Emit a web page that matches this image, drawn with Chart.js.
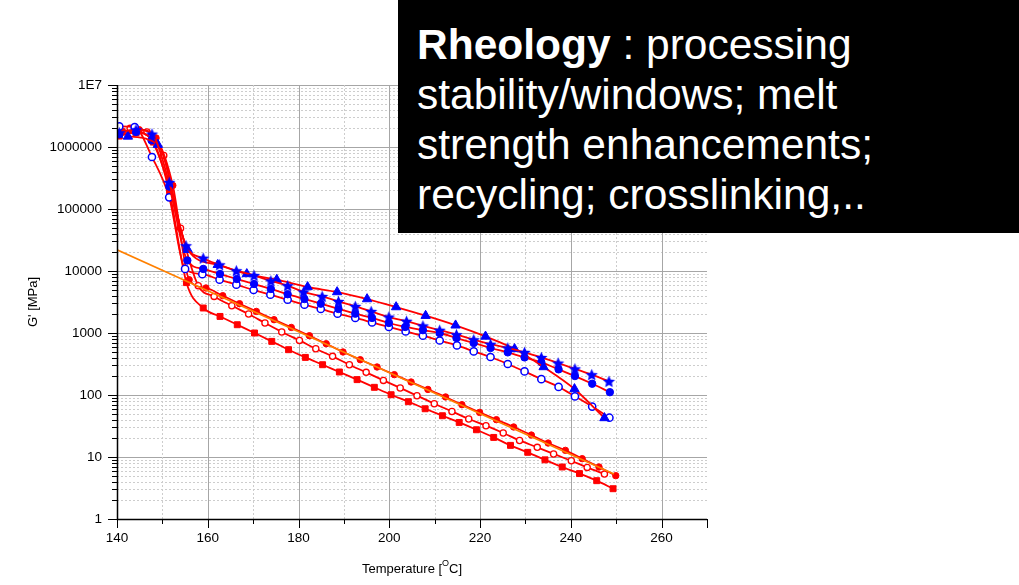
<!DOCTYPE html>
<html>
<head>
<meta charset="utf-8">
<script src="https://cdn.jsdelivr.net/npm/chart.js@4.4.1/dist/chart.umd.min.js"></script>
<style>
  html, body { margin: 0; padding: 0; background: #fff; }
  #wrap { position: relative; width: 1019px; height: 585px; overflow: hidden; }
  #c { position: absolute; left: 0; top: 0; }
  #note {
    position: absolute; left: 398px; top: 0; width: 621px; height: 233px;
    background: #000; color: #fff; box-sizing: border-box;
    padding: 20px 0 0 19px;
    font-family: "Liberation Sans", Arial, sans-serif; font-size: 42.5px; line-height: 50px;
  }
</style>
</head>
<body>
<div id="wrap">
  <canvas id="c" width="1019" height="585"></canvas>
  <div id="note"><b>Rheology</b> : processing<br>stability/windows; melt<br>strength enhancements;<br>recycling; crosslinking,..</div>
</div>
<script>
// Storage modulus G' vs temperature, seven samples plus a straight extrapolation line.

// blue stars
const tStar = [140.5, 144.2, 147.7, 151.5, 155.2, 159.0, 162.6, 166.3, 170.2, 173.9, 177.6, 181.1, 185.2, 188.8, 192.5, 196.0, 199.9, 203.8, 207.4, 211.1, 214.8, 218.6, 222.3, 226.1, 229.8, 233.5, 237.2, 240.9, 244.6, 248.4];
const gStar = [1.7e6, 1.9e6, 1.62e6, 2.69e5, 25600, 16100, 12600, 10100, 8490, 6920, 5800, 4600, 3890, 3230, 2690, 2230, 1810, 1550, 1300, 1110, 940, 780, 660, 573, 487, 403, 328, 264, 213, 166];

// blue filled circles
const tDot = [140.5, 144.2, 147.6, 151.5, 155.5, 159.0, 162.7, 166.4, 170.2, 173.9, 177.6, 181.3, 184.9, 188.8, 192.5, 196.2, 199.9, 203.5, 207.4, 211.1, 214.8, 218.6, 222.3, 226.1, 229.8, 233.5, 237.3, 240.9, 244.7, 248.6];
const gDot = [1.6e6, 1.75e6, 1.28e6, 2.3e5, 14800, 10800, 8950, 7430, 6170, 5130, 4220, 3530, 2970, 2440, 2050, 1750, 1450, 1250, 1110, 1000, 830, 690, 573, 487, 404, 336, 259, 202, 152, 111];

// blue open circles
const tRing = [140.5, 143.9, 147.7, 151.5, 155.0, 158.8, 162.6, 166.3, 170.1, 173.8, 177.6, 181.3, 184.9, 188.6, 192.5, 196.2, 199.9, 203.6, 207.4, 211.1, 214.9, 218.6, 222.3, 226.1, 229.8, 233.5, 237.3, 240.9, 244.7, 248.5];
const gRing = [2.15e6, 2.1e6, 6.9e5, 1.54e5, 10800, 8880, 7240, 6020, 4940, 4150, 3440, 2860, 2440, 2050, 1750, 1480, 1250, 1060, 904, 757, 631, 505, 410, 316, 240, 180, 135, 95, 65, 43];

// blue triangles
const tTri = [142.4, 149.0, 155.6, 162.2, 168.6, 175.2, 182.0, 188.5, 195.1, 201.5, 208.0, 214.6, 221.2, 227.6, 234.0, 240.8, 247.4];
const gTri = [1.48e6, 1.09e6, 22000, 12600, 8950, 7240, 5520, 4580, 3530, 2620, 1900, 1330, 880, 553, 283, 125, 42.6];

// red squares
const tSq = [140.5, 144.2, 148.0, 151.6, 155.3, 159.0, 162.7, 166.5, 170.3, 174.1, 177.8, 181.5, 185.3, 189.0, 192.9, 196.7, 200.4, 204.2, 207.9, 211.7, 215.4, 219.2, 223.0, 226.7, 230.5, 234.3, 238.1, 241.9, 245.7, 249.3];
const gSq = [1.5e6, 1.7e6, 1.2e6, 1.8e5, 6500, 2530, 1850, 1360, 1000, 733, 538, 404, 308, 235, 177, 133, 101, 78, 60, 46.3, 36.1, 27.5, 20.7, 15.4, 11.9, 9.0, 6.9, 5.4, 4.15, 3.08];

// red open circles
const tOpen = [142.9, 146.6, 150.3, 154.0, 157.9, 161.4, 165.3, 169.0, 172.6, 176.3, 180.2, 183.8, 187.5, 191.2, 194.9, 198.7, 202.4, 206.1, 209.9, 213.8, 217.5, 221.3, 225.1, 228.7, 232.6, 236.2, 240.1, 243.6, 247.4];
const gOpen = [2.0e6, 1.75e6, 7.3e5, 4.9e4, 5790, 3890, 2750, 2020, 1450, 1040, 760, 558, 420, 308, 232, 172, 130, 97.5, 72.4, 54.3, 41, 32, 24.4, 18.5, 14.3, 11.2, 8.7, 6.8, 5.3];

// red filled circles
const tFull = [141.2, 144.9, 148.6, 152.3, 155.9, 159.6, 163.3, 167.0, 170.7, 174.6, 178.4, 182.4, 186.1, 189.8, 193.6, 197.3, 201.1, 204.8, 208.5, 212.4, 216.0, 219.9, 223.6, 227.4, 231.3, 235.0, 238.8, 242.5, 246.2, 249.9];
const gFull = [1.8e6, 1.9e6, 1.4e6, 2.4e5, 7240, 5320, 4000, 2970, 2230, 1640, 1230, 904, 672, 494, 371, 283, 213, 162, 123, 93, 69.8, 52.4, 40, 30.5, 22.6, 16.8, 12.8, 9.4, 6.9, 5.0];

// orange extrapolation line
const tFit = [140, 249.5];
const gFit = [22000, 5.3];

// axis labels
const xTickLabels = ['140', '160', '180', '200', '220', '240', '260'];
const yTickLabels = ['1', '10', '100', '1000', '10000', '100000', '1000000', '1E7'];

const RED = '#ff0000', BLUE = '#0000ff', ORANGE = '#ff8000';
const LABEL_FONT = '"Liberation Sans Narrow", "Arial Narrow", "Liberation Sans", Arial, sans-serif';

function pts(t, g) { return t.map((x, i) => ({ x: x, y: g[i] })); }

function starImage(r, color) {
  const s = Math.ceil(r * 2 + 2);
  const c = document.createElement('canvas');
  c.width = s; c.height = s;
  const g = c.getContext('2d');
  g.fillStyle = color;
  g.beginPath();
  for (let i = 0; i < 10; i++) {
    const rad = i % 2 ? r * 0.47 : r;
    const a = -Math.PI / 2 + i * Math.PI / 5;
    g.lineTo(s / 2 + rad * Math.cos(a), s / 2 + 0.6 + rad * Math.sin(a));
  }
  g.closePath();
  g.fill();
  return c;
}

function series(label, data, extra) {
  return Object.assign({
    label: label,
    data: data,
    borderColor: RED,
    borderWidth: 1.8,
    cubicInterpolationMode: 'monotone',
    pointBorderWidth: 1,
    pointHoverRadius: 0
  }, extra);
}

const datasets = [
  series('fit', pts(tFit, gFit), { borderColor: ORANGE, borderWidth: 1.7, pointRadius: 0 }),
  series('stars', pts(tStar, gStar), { pointStyle: starImage(6.4, BLUE), pointRadius: 6 }),
  series('triangles', pts(tTri, gTri), { pointStyle: 'triangle', pointRadius: 5.4, pointBackgroundColor: BLUE, pointBorderColor: BLUE }),
  series('dots', pts(tDot, gDot), { pointStyle: 'circle', pointRadius: 3.7, pointBackgroundColor: BLUE, pointBorderColor: BLUE }),
  series('rings', pts(tRing, gRing), { pointStyle: 'circle', pointRadius: 3.6, pointBackgroundColor: '#fff', pointBorderColor: BLUE, pointBorderWidth: 1.5 }),
  series('full', pts(tFull, gFull), { pointStyle: 'circle', pointRadius: 3.2, pointBackgroundColor: RED, pointBorderColor: RED }),
  series('open', pts(tOpen, gOpen), { pointStyle: 'circle', pointRadius: 3.1, pointBackgroundColor: '#fff', pointBorderColor: RED, pointBorderWidth: 1.3 }),
  series('squares', pts(tSq, gSq), { pointStyle: 'rect', pointRadius: 4.2, pointBackgroundColor: RED, pointBorderColor: RED })
];

function isDecade(v) {
  const e = Math.log10(v);
  return Math.abs(e - Math.round(e)) < 1e-9;
}

// dotted minor grid, solid major grid
const gridPlugin = {
  id: 'grid',
  beforeDatasetsDraw(chart) {
    const { ctx, chartArea: a, scales: { x, y } } = chart;
    ctx.save();
    ctx.lineWidth = 1;
    y.ticks.forEach(t => {
      const py = Math.round(y.getPixelForValue(t.value)) + 0.5;
      const major = isDecade(t.value);
      ctx.strokeStyle = major ? '#a6a6a6' : '#cdcdcd';
      ctx.setLineDash(major ? [] : [2, 2]);
      ctx.beginPath(); ctx.moveTo(a.left, py); ctx.lineTo(a.right, py); ctx.stroke();
    });
    x.ticks.forEach(t => {
      if (t.value <= x.min || t.value >= x.max) return;
      const px = Math.round(x.getPixelForValue(t.value)) + 0.5;
      const major = t.value % 20 === 0;
      ctx.strokeStyle = major ? '#a6a6a6' : '#cdcdcd';
      ctx.setLineDash(major ? [] : [2, 2]);
      ctx.beginPath(); ctx.moveTo(px, a.top); ctx.lineTo(px, a.bottom); ctx.stroke();
    });
    ctx.restore();
  }
};

// axis lines, outward tick marks and axis titles
const axesPlugin = {
  id: 'axes',
  afterDraw(chart) {
    const { ctx, chartArea: a, scales: { x, y } } = chart;
    ctx.save();
    ctx.strokeStyle = '#000';
    ctx.lineWidth = 1;
    ctx.beginPath();
    y.ticks.forEach(t => {
      const py = Math.round(y.getPixelForValue(t.value)) + 0.5;
      const len = isDecade(t.value) ? 9 : 5;
      ctx.moveTo(a.left - len, py); ctx.lineTo(a.left, py);
    });
    x.ticks.forEach(t => {
      const px = Math.round(x.getPixelForValue(t.value)) + 0.5;
      const len = (t.value % 20 === 0 || t.value === x.max) ? 9 : 5;
      ctx.moveTo(px, a.bottom); ctx.lineTo(px, a.bottom + len);
    });
    ctx.stroke();
    ctx.lineWidth = 1.5;
    ctx.beginPath();
    ctx.moveTo(a.left + 0.5, a.top); ctx.lineTo(a.left + 0.5, a.bottom + 0.5);
    ctx.lineTo(a.right, a.bottom + 0.5);
    ctx.stroke();

    ctx.fillStyle = '#000';
    ctx.textBaseline = 'middle';
    // y title
    ctx.save();
    ctx.translate(33, (a.top + a.bottom) / 2);
    ctx.rotate(-Math.PI / 2);
    ctx.font = '13px ' + LABEL_FONT;
    ctx.textAlign = 'center';
    ctx.fillText("G' [MPa]", 0, 0);
    ctx.restore();
    // x title with superscript degree mark
    const parts = ['Temperature [', 'O', 'C]'];
    ctx.font = '13px ' + LABEL_FONT;
    const w0 = ctx.measureText(parts[0]).width;
    const w2 = ctx.measureText(parts[2]).width;
    ctx.font = '9px ' + LABEL_FONT;
    const w1 = ctx.measureText(parts[1]).width;
    let cx = (a.left + a.right) / 2 - (w0 + w1 + w2) / 2;
    const cy = 569;
    ctx.textAlign = 'left';
    ctx.font = '13px ' + LABEL_FONT;
    ctx.fillText(parts[0], cx, cy); cx += w0;
    ctx.font = '9px ' + LABEL_FONT;
    ctx.fillText(parts[1], cx, cy - 5); cx += w1;
    ctx.font = '13px ' + LABEL_FONT;
    ctx.fillText(parts[2], cx, cy);
    ctx.restore();
  }
};

new Chart(document.getElementById('c'), {
  type: 'line',
  data: { datasets: datasets },
  options: {
    responsive: false,
    animation: false,
    devicePixelRatio: 1,
    layout: { padding: { left: 0, right: 312, top: 85, bottom: 0 } },
    plugins: { legend: { display: false }, tooltip: { enabled: false } },
    scales: {
      x: {
        type: 'linear', min: 140, max: 270,
        grid: { display: false, drawTicks: false, tickLength: 0 },
        border: { display: false },
        ticks: {
          stepSize: 10, autoSkip: false, maxRotation: 0, padding: 11,
          color: '#000', font: { family: LABEL_FONT, size: 13.5 },
          callback: v => (v % 20 === 0 && v <= 260) ? xTickLabels[(v - 140) / 20] : ''
        },
        afterFit: s => { s.height = 66; }
      },
      y: {
        type: 'logarithmic', min: 1, max: 1e7,
        grid: { display: false, drawTicks: false, tickLength: 0 },
        border: { display: false },
        afterBuildTicks: s => {
          const t = [];
          for (let e = 0; e <= 7; e++) {
            for (let m = 1; m <= 9; m++) {
              if (e === 7 && m > 1) break;
              t.push({ value: m * Math.pow(10, e) });
            }
          }
          s.ticks = t;
        },
        ticks: {
          autoSkip: false, padding: 15,
          color: '#000', font: { family: LABEL_FONT, size: 13.5 },
          callback: v => isDecade(v) ? yTickLabels[Math.round(Math.log10(v))] : ''
        },
        afterFit: s => { s.width = 117; }
      }
    }
  },
  plugins: [gridPlugin, axesPlugin]
});
</script>
</body>
</html>
